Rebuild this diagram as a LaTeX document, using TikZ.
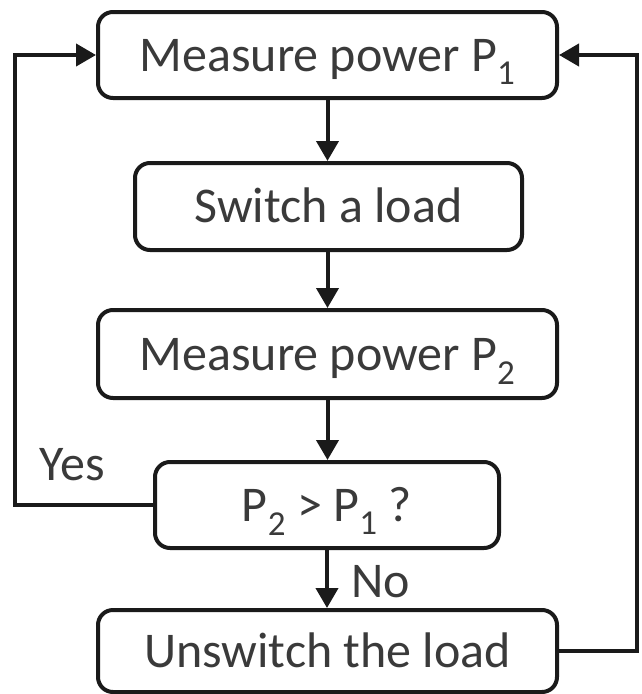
\documentclass[tikz,border=0pt]{standalone}
\usepackage{fontspec}
\setmainfont{Carlito}
\usetikzlibrary{arrows.meta}
\definecolor{txt}{HTML}{3A3A3A}
\definecolor{ln}{HTML}{1A1A1A}
\tikzset{
  box/.style={draw=ln, line width=4pt, rounded corners=15pt, text=txt,
    font=\fontsize{50}{56}\selectfont, inner sep=0pt, anchor=center,
    text height=32pt, text depth=0pt},
  arr/.style={draw=ln, line width=4pt, -{Triangle[length=20pt,width=22pt]}},
  lbl/.style={text=txt, font=\fontsize{50}{56}\selectfont, inner sep=0pt}
}
\begin{document}
\begin{tikzpicture}[x=1pt,y=-1pt]
\useasboundingbox (0,0) rectangle (641,694);
\node[box, minimum width=459pt, minimum height=86pt] (b1) at (327.5,55) {Measure power P\textsubscript{1}};
\node[box, minimum width=387pt, minimum height=87pt] (b2) at (328.5,206.5) {Switch a load};
\node[box, minimum width=459pt, minimum height=88pt] (b3) at (327.5,354) {Measure power P\textsubscript{2}};
\node[box, minimum width=344pt, minimum height=86pt] (b4) at (327,505) {P\textsubscript{2} > P\textsubscript{1} ?};
\node[box, minimum width=459pt, minimum height=82pt] (b5) at (327.5,651) {Unswitch the load};
\coordinate (L) at (15,0);
\coordinate (R) at (637,0);
\draw[arr] (b1.south) -- (b1.south |- b2.north);
\draw[arr] (b2.south -| b1.south) -- (b1.south |- b3.north);
\draw[arr] (b3.south) -- (b3.south |- b4.north);
\draw[arr] (b4.south) -- (b4.south |- b5.north);
\draw[arr] (b4.west) -- (b4.west -| L) |- (b1.west);
\draw[arr] (b5.east) -- (b5.east -| R) |- (b1.east);
\node[lbl] (yes) at (72,465) {Yes};
\node[lbl] (no) at (381,582) {No};
\end{tikzpicture}
\end{document}
